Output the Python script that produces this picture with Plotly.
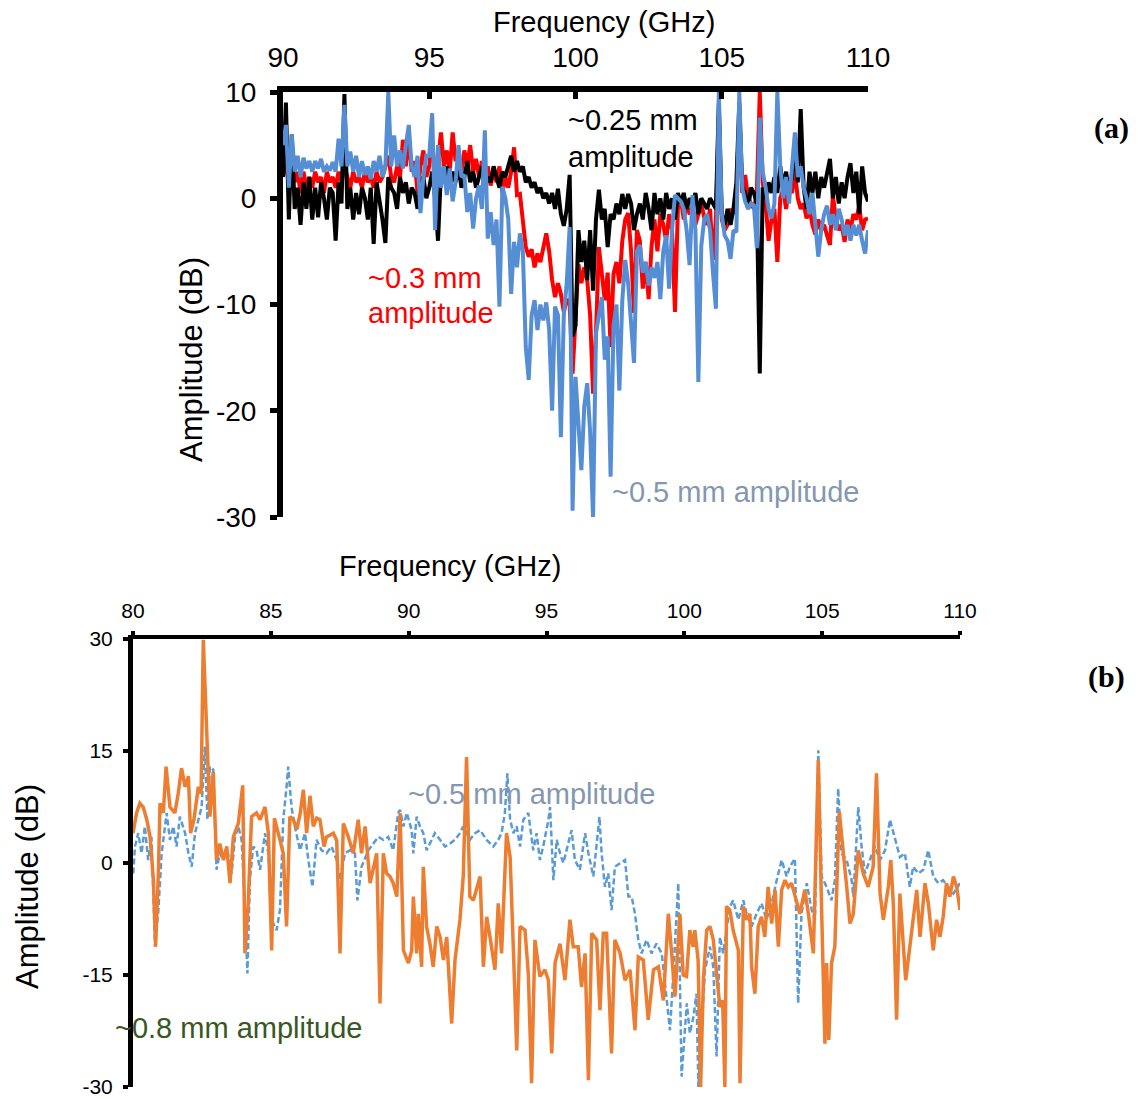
import plotly.graph_objects as go

W, H = 1143, 1099
FONT = "Arial, Liberation Sans, sans-serif"

# ---------------- Panel (a) data ----------------
freq_a = [round(90 + 0.1 * i, 1) for i in range(201)]

amp_a_025mm = [
    2, 9, -2, 6, -1, 1, -2.5, 1.5, -1, 2,
    -2, 1, -1.8, 1.5, 0, -2, 1, 0.5, -4, 1.5,
    -0.5, 9.8, -1, 1, -2, 0.5, -1.5, 1, 0, -2,
    1, -4.3, 1.5, 0, -2, -4.2, 2, 1, 0.5, -1,
    2, 0.5, 1.5, -0.5, 1, 0.5, -1, 1.5, 2, 0,
    1, 2.5, 0, -4, 2.5, 1.5, 3, 1, 2.5, 1.5,
    3, 1, 2, 3.5, 1.5, 2.5, 1, 2, 3, 1,
    2, 1.5, 3, 2, 1, 2.5, 2, 3, 4, 2.5,
    3.5, 2.5, 3, 1.5, 2, 1, 1.5, 0.5, 1, 0,
    0.5, -0.5, 0.5, -1, 0.9, -1.5, -2.6, -1, 2.2, -13,
    -12, -3, -6, -4, -7.7, -3, -8.7, -2, 0.8, -2,
    -1, -4.6, -1.5, -2, -0.5, -1.5, 0.4, -1, 0.4, -0.5,
    -3, -1.5, -0.5, -2, 0.5, -1, -3, 0.5, -1.5, 0,
    -2, 0.5, -1, 0, -2, 0.5, -0.5, 0.5, -1, 0,
    -0.5, 0.5, -1.5, 0, -0.5, -1, 0, -0.5, -1, 9,
    -1.5, -2.5, -1, -2.5, -1, 1.5, 9, 1, 0.5, -1,
    1, 0.5, -0.5, -16.5, 1, 0, 1.5, 0.5, 2, 0.5,
    3, 1, 2.5, 0.5, 2, 4.5, 1.5, 8.4, 1, -1,
    2.5, 0.5, 2.5, 0, 2, 1, 2.5, 3.7, 0, 2,
    -0.5, 1.5, 0, 2, 3.3, 0.5, 2.5, -1.5, 3, 0.5, -0.3,
]

amp_a_03mm = [
    2, 4, 1, 3, 1.5, 2.5, 0.5, 2.5, 1, 2,
    1, 2.5, 1.5, 2, 0.5, 2.5, 1.5, 2, 1, 2.5,
    1.5, 3, 2, 1, 2.5, 1.5, 2, 1, 2.5, 1.5,
    2, 1, 2.5, 1.5, 2, 3, 4, 2, 1.5, 3,
    2, 5.5, 3, 5.8, 2.5, 3.5, 0.5, 3, 4.5, 2,
    3, 5.5, 2, 3.5, 6.2, 3, 4.5, 2.5, 6.2, 3.5,
    4, 2.5, 4.5, 3, 5, 2.5, 3.7, 2, 3.5, 1.5,
    3, 1.2, 2.6, 1.5, 3, 0.5, 2, 1, 2.5, 4.8,
    0.3, 0.4, -2.6, -4.6, -5.5, -4.8, -6.5, -5.2, -6, -4.5,
    -3.3, -5, -7.7, -9.3, -8, -9, -10.7, -9.5, -10, -16.5,
    -12, -6.2, -8, -6.5, -7.7, -11, -18.4, -12.7, -4.6, -7,
    -9.6, -7, -14, -7.1, -6, -8, -4, -2, -1.4, -5,
    -10.8, -3, -4, -8.5, -6, -9.5, -4.5, -2, -5, -1.5,
    -2.5, -4, -1.5, -3, -10.7, -1, 0, -2, -0.5, -1.5,
    -1, -2.5, -1.5, -0.5, -1.8, -2.5, -1, -5.8, -2, 8,
    -2, -3, -2.5, -1, -1.5, 0, 8, 0.5, 2.2, 0,
    -0.5, -1, 0.5, 10, 1.5, -0.5, -4, -2, -1, -6,
    0, 0.8, -1, 1, 0.5, 2.5, 0, -1, -0.5, -1.9,
    -1, -2.5, -3.4, -2, -3, -2.5, -3.5, -4.4, 0.3, -2,
    -3, -2.5, -4.1, -2, -3, -1.5, -2, -0.7, -3, -2, -1.9,
]

amp_a_05mm = [
    5, 6.9, 1, 6, 2.5, 4, 2, 3.8, 2.8, 3.5,
    2.5, 3.5, 2.8, 3.7, 2.5, 3, 2.6, 3.4, 2.5, 5.6,
    3, 8.8, 3, 4.4, 2.5, 4, 2, 3.5, 2.2, 3,
    1.8, 3.5, 2.5, 4, 2, 3, 10, 3, 5.9, 3,
    4.5, 2.8, 5, 6.9, 3, 2, 4, -1.4, 2, 4,
    4, 8, -3, 5, 1, 3, 0.3, 2.8, -0.3, 1.5,
    5, 2, 2.2, -1.3, 0.5, -2.85, 0, 1.2, -1, 6.4,
    -3.8, -1.3, -4.4, -2, -10.2, 1.1, 0, -1.9, -9, -4.1,
    -6.5, -3.3, -5, -14, -17.1, -11, -9.6, -12.4, -10, -11.5,
    -9.8, -12.4, -20, -10.2, -11, -22.5, -11, -8, -2.7, -29.4,
    -16.8, -21.8, -25.6, -19.6, -17.4, -22, -30, -12.7, -11, -9.3,
    -15.2, -13, -26.2, -12, -10, -18.1, -9.6, -5.8, -8, -12,
    -15.5, -5, -4.4, -7, -6, -8.2, -6.5, -7.5, -6, -9.5,
    -5, -3.5, -8.5, -3, 0.3, 0, -0.3, -1, -3, -6.3,
    0.3, -3, -17.3, -4.5, -2, -1.5, -3, -7, -10.4, 10,
    -1.5, -3.5, -4, -5.7, -3, -3.2, 10, 1, -0.3, -1,
    -0.5, -0.7, -4.7, 7.6, 2.5, 1, -1, -1.9, -0.5, 10,
    3, 0, 2, -0.5, 3, 6.2, 2, 3, 1, 0,
    -1.5, 0.5, -2.5, -5.5, -3, -1.5, -0.7, -2.5, -1.5, -3,
    -1, -2, -3.5, -2.5, -4, -2.5, -3.5, -2.5, -4, -5.2, -3,
]

# ---------------- Panel (b) data ----------------
freq_b_08mm = [
    80.0, 80.13, 80.25, 80.37, 80.5, 80.62, 80.74, 80.82, 80.92, 80.98,
    81.1, 81.2, 81.34, 81.52, 81.64, 81.76, 81.89, 82.01, 82.09, 82.21,
    82.37, 82.47, 82.55, 82.67, 82.79, 82.91, 83.03, 83.15, 83.28, 83.4,
    83.52, 83.64, 83.82, 83.98, 84.06, 84.18, 84.3, 84.48, 84.61, 84.79,
    84.91, 85.03, 85.13, 85.33, 85.45, 85.57, 85.69, 85.82, 85.94, 86.06,
    86.18, 86.3, 86.42, 86.54, 86.66, 86.78, 86.93, 87.02, 87.27, 87.39,
    87.51, 87.63, 87.81, 87.99, 88.17, 88.29, 88.42, 88.6, 88.84, 88.96,
    89.08, 89.2, 89.32, 89.44, 89.57, 89.69, 89.81, 89.99, 90.11, 90.17,
    90.29, 90.35, 90.47, 90.53, 90.65, 90.77, 90.89, 91.02, 91.14, 91.26,
    91.38, 91.56, 91.68, 91.86, 91.98, 92.1, 92.22, 92.35, 92.59, 92.71,
    92.83, 92.95, 93.13, 93.25, 93.37, 93.55, 93.68, 93.8, 93.92, 94.04,
    94.22, 94.34, 94.46, 94.58, 94.76, 94.94, 95.07, 95.19, 95.31, 95.49,
    95.67, 95.85, 95.97, 96.15, 96.27, 96.4, 96.52, 96.64, 96.82, 96.94,
    97.06, 97.18, 97.36, 97.48, 97.67, 97.85, 98.03, 98.21, 98.33, 98.51,
    98.69, 98.88, 99.06, 99.24, 99.42, 99.54, 99.66, 99.84, 99.96, 100.08,
    100.2, 100.32, 100.38, 100.5, 100.59, 100.69, 100.81, 100.93, 101.05, 101.17,
    101.29, 101.39, 101.47, 101.53, 101.65, 101.77, 101.96, 102.02, 102.14, 102.26,
    102.38, 102.44, 102.56, 102.68, 102.8, 102.92, 103.04, 103.17, 103.29, 103.41,
    103.53, 103.65, 103.77, 103.89, 104.01, 104.19, 104.37, 104.5, 104.68, 104.86,
    104.98, 105.1, 105.16, 105.24, 105.34, 105.46, 105.62, 105.76, 105.89, 106.01,
    106.13, 106.31, 106.49, 106.67, 106.85, 106.97, 107.1, 107.22, 107.4, 107.49,
    107.58, 107.7, 107.82, 107.94, 108.03, 108.18, 108.3, 108.43, 108.55, 108.73,
    108.85, 109.03, 109.15, 109.27, 109.39, 109.51, 109.63, 109.76, 109.88, 110.0,
]
amp_b_08mm = [
    4.0, 6.7, 8.0, 7.5, 5.8, 3.5, -2.3, -11.2, -1.4, 8.0,
    6.7, 12.9, 7.5, 6.7, 9.3, 12.7, 10.2, 11.6, 4.0, 5.8,
    10.2, 9.3, 29.9, 16.5, 6.2, 12.2, 0.4, 2.6, 0.4, 2.2,
    -2.7, 3.5, 5.3, 10.4, -12.1, -5.4, 6.2, 6.7, 5.8, 7.5,
    4.0, -11.7, 6.0, 3.1, 1.3, -8.5, 6.2, 5.8, 4.5, 6.5,
    9.8, 4.0, 9.0, 4.9, 6.0, 5.8, 2.2, 3.5, 4.0, 3.0,
    -12.1, 5.3, 3.5, 1.3, 5.8, 1.3, 4.9, -2.7, 1.3, -18.8,
    1.3, -1.4, -1.8, -2.7, -4.5, 6.7, -11.7, -13.4, -11.7, -4.5,
    -12.1, -6.8, -13.9, -0.5, -8.5, -10.8, -13.9, -8.5, -9.9, -13.0,
    -9.9, -21.5, -13.0, -7.6, -1.8, 14.2, -4.5, -5.0, -1.8, -13.9,
    -7.2, -9.9, -14.3, -5.4, -12.1, 4.0, 0.8, -11.7, -25.1, -8.5,
    -9.0, -14.8, -29.5, -10.3, -15.2, -14.3, -15.7, -25.5, -13.4, -10.8,
    -15.7, -7.6, -11.2, -11.2, -16.6, -12.1, -29.1, -9.4, -10.3, -19.7,
    -9.4, -9.4, -25.5, -10.3, -12.1, -15.7, -14.3, -22.4, -12.6, -13.0,
    -21.0, -14.3, -13.9, -18.4, -6.8, -12.1, -17.9, -6.8, -15.0, -15.2,
    -9.0, -11.2, -9.0, -13.0, -30.0, -15.7, -9.0, -8.5, -10.3, -14.8,
    -19.3, -18.4, -30.0, -5.8, -6.3, -9.0, -11.7, -29.5, -5.8, -7.6,
    -6.8, -13.9, -17.5, -8.5, -7.2, -9.9, -3.2, -8.1, -3.6, -11.2,
    -3.6, -2.3, -3.2, -2.7, -4.5, -6.8, -3.6, -6.8, -12.1, 13.8,
    -6.3, -24.2, -13.4, -23.7, -13.4, -11.2, 6.9, 2.2, -3.2, -8.1,
    -6.8, 1.7, -1.4, -3.2, -0.5, 12.0, -4.1, -7.6, -3.2, 0.4,
    -5.4, -21.0, -4.1, -10.8, -15.7, -11.2, -7.6, -3.6, -9.9, -2.7,
    -5.4, -11.7, -7.6, -9.9, -7.2, -2.7, -4.5, -1.8, -3.2, -6.3,
]

freq_b_05mm = [
    80.01, 80.07, 80.19, 80.31, 80.43, 80.55, 80.67, 80.8, 80.92, 81.04,
    81.22, 81.34, 81.46, 81.58, 81.7, 81.89, 82.01, 82.13, 82.25, 82.37,
    82.49, 82.61, 82.7, 82.79, 82.91, 83.03, 83.15, 83.28, 83.4, 83.58,
    83.7, 83.82, 83.94, 84.06, 84.15, 84.24, 84.36, 84.48, 84.61, 84.79,
    84.91, 85.03, 85.21, 85.33, 85.45, 85.57, 85.63, 85.75, 85.87, 86.06,
    86.24, 86.36, 86.51, 86.66, 86.84, 87.02, 87.2, 87.39, 87.51, 87.69,
    87.87, 88.05, 88.14, 88.29, 88.54, 88.72, 88.9, 89.08, 89.26, 89.44,
    89.62, 89.69, 89.81, 89.93, 90.11, 90.17, 90.29, 90.41, 90.53, 90.65,
    90.83, 90.95, 91.14, 91.32, 91.5, 91.68, 91.86, 91.98, 92.22, 92.41,
    92.59, 92.83, 93.07, 93.25, 93.37, 93.49, 93.58, 93.68, 93.8, 93.92,
    94.04, 94.16, 94.34, 94.52, 94.64, 94.76, 94.88, 95.07, 95.13, 95.25,
    95.37, 95.49, 95.61, 95.73, 95.91, 96.03, 96.21, 96.4, 96.52, 96.7,
    96.92, 97.0, 97.12, 97.24, 97.36, 97.48, 97.67, 97.85, 97.97, 98.09,
    98.21, 98.33, 98.45, 98.63, 98.81, 98.99, 99.18, 99.3, 99.48, 99.6,
    99.78, 99.9, 100.09, 100.2, 100.33, 100.44, 100.51, 100.75, 100.93, 101.05,
    101.17, 101.29, 101.41, 101.65, 101.77, 101.96, 102.14, 102.26, 102.44, 102.62,
    102.8, 102.98, 103.17, 103.35, 103.53, 103.71, 103.83, 104.01, 104.13, 104.25,
    104.44, 104.62, 104.74, 104.86, 104.98, 105.16, 105.34, 105.46, 105.58, 105.7,
    105.89, 106.07, 106.13, 106.31, 106.43, 106.55, 106.73, 106.91, 107.1, 107.28,
    107.46, 107.64, 107.82, 108.0, 108.18, 108.3, 108.49, 108.67, 108.85, 109.03,
    109.21, 109.39, 109.57, 109.76, 110.0,
]
amp_b_05mm = [
    -1.4, 2.2, 4.0, 1.3, 4.9, 0.4, 3.5, -11.2, -6.3, 1.3,
    6.7, 3.1, 4.9, 2.2, 6.2, 4.0, 1.3, -0.5, 4.0, 5.8,
    7.5, 15.6, 5.8, 12.9, 12.5, -0.9, 1.3, 0.4, 2.2, -1.4,
    3.5, 4.9, 3.1, -5.9, -14.8, -2.3, 2.2, 1.7, -0.9, 4.0,
    1.3, -7.6, -9.0, -6.3, 5.8, 10.2, 12.9, 7.5, 4.9, 1.7,
    4.0, 0.4, -3.2, 3.1, 1.7, 1.3, 2.2, 0.4, -2.3, 1.3,
    1.7, 1.3, -5.0, -0.5, 1.7, 2.6, 3.5, 3.1, 3.5, 1.7,
    6.7, 7.1, 4.9, 6.7, 4.4, 1.3, 6.2, 4.9, 4.0, 1.7,
    3.1, 4.0, 3.1, 2.2, 2.6, 3.1, 4.0, 4.9, 3.1, 4.0,
    4.4, 3.1, 2.2, 3.1, 4.0, 6.7, 12.0, 5.8, 4.0, 4.9,
    2.2, 5.8, 6.7, 1.7, 4.0, 0.4, 2.2, 5.8, 7.5, -2.3,
    3.1, 1.3, 0.0, 1.7, 4.4, 0.4, -0.9, 4.0, 1.3, -1.8,
    6.2, 1.3, -3.2, -1.4, -6.3, -0.5, 0.0, 0.4, -4.5, -4.5,
    -6.8, -10.3, -12.1, -10.3, -12.1, -10.8, -12.1, -16.6, -22.4, -14.8,
    -2.7, -28.6, -18.8, -22.8, -20.6, -17.5, -30.0, -14.3, -11.2, -13.9,
    -25.9, -9.9, -12.1, -5.9, -5.0, -7.6, -5.0, -6.8, -8.5, -6.8,
    -5.4, -7.6, -5.4, -2.3, 0.4, -1.8, -0.5, 0.6, -18.8, -6.8,
    -2.7, -6.3, -7.6, 15.1, -1.8, -3.2, -5.0, -2.3, 10.0, 1.3,
    0.4, -2.3, -4.5, 7.5, 2.2, -1.4, 0.4, 2.2, 0.4, 1.7,
    5.8, 3.1, 0.8, 1.3, -3.2, -0.5, -1.4, -0.9, 1.7, -1.8,
    -2.7, -2.3, -3.2, -4.1, -2.7,
]

ticks_a_x = [90, 95, 100, 105, 110]
ticks_a_y = [10, 0, -10, -20, -30]
ticks_b_x = [80, 85, 90, 95, 100, 105, 110]
ticks_b_y = [30, 15, 0, -15, -30]

fig = go.Figure()

# panel (a)
fig.add_trace(go.Scatter(x=freq_a, y=amp_a_03mm, mode="lines", name="~0.3 mm",
                         line=dict(color="#FF0000", width=4), xaxis="x", yaxis="y"))
fig.add_trace(go.Scatter(x=freq_a, y=amp_a_025mm, mode="lines", name="~0.25 mm",
                         line=dict(color="#000000", width=4), xaxis="x", yaxis="y"))
fig.add_trace(go.Scatter(x=freq_a, y=amp_a_05mm, mode="lines", name="~0.5 mm",
                         line=dict(color="#558ED5", width=4), xaxis="x", yaxis="y"))

# panel (b)
fig.add_trace(go.Scatter(x=freq_b_05mm, y=amp_b_05mm, mode="lines", name="~0.5 mm (b)",
                         line=dict(color="#5B9BD5", width=2.5, dash="6px,3px"),
                         xaxis="x2", yaxis="y2"))
fig.add_trace(go.Scatter(x=freq_b_08mm, y=amp_b_08mm, mode="lines", name="~0.8 mm",
                         line=dict(color="#ED7D31", width=3.5), xaxis="x2", yaxis="y2"))


def px(p):
    return p / W


def py(p):
    return 1 - p / H


common = dict(showgrid=False, zeroline=False, showline=True, linecolor="black",
              color="black", automargin=False)


def labels(vals):
    return [str(v) for v in vals]


fig.update_layout(
    width=W, height=H,
    autosize=False,
    margin=dict(l=0, r=0, t=0, b=0, pad=0, autoexpand=False),
    paper_bgcolor="white", plot_bgcolor="white",
    showlegend=False,
    font=dict(family=FONT, color="black"),
    xaxis=dict(domain=[px(283), px(868)], anchor="y", side="top", range=[90, 110],
               tickvals=ticks_a_x, ticktext=labels(ticks_a_x),
               linewidth=6, ticks="inside", ticklen=7, tickwidth=5,
               tickcolor="black", tickfont=dict(size=28, family=FONT),
               ticklabelstandoff=8, **common),
    yaxis=dict(domain=[py(517), py(92)], anchor="x", range=[-30, 10],
               tickvals=ticks_a_y, ticktext=labels(ticks_a_y),
               linewidth=6, ticks="outside", ticklen=7, tickwidth=5,
               tickcolor="black", tickfont=dict(size=28, family=FONT),
               ticklabelstandoff=8, **common),
    xaxis2=dict(domain=[px(133), px(960)], anchor="y2", side="top", range=[80, 110],
                tickvals=ticks_b_x, ticktext=labels(ticks_b_x),
                linewidth=4, ticks="outside", ticklen=4, tickwidth=4,
                tickcolor="black", tickfont=dict(size=21, family=FONT),
                ticklabelstandoff=5, **common),
    yaxis2=dict(domain=[py(1087), py(639)], anchor="x2", range=[-30, 30],
                tickvals=ticks_b_y, ticktext=labels(ticks_b_y),
                linewidth=5, ticks="outside", ticklen=5, tickwidth=4,
                tickcolor="black", tickfont=dict(size=21, family=FONT),
                ticklabelstandoff=6, **common),
)


def ann(text, x, y, size=29, color="black", xanchor="left", angle=0, family=FONT):
    fig.add_annotation(text=text, x=px(x), y=py(y), xref="paper", yref="paper",
                       xanchor=xanchor, yanchor="middle", showarrow=False, textangle=angle,
                       font=dict(size=size, color=color, family=family))


# axis titles
ann("Frequency (GHz)", 604, 22, xanchor="center")
ann("Amplitude (dB)", 191, 360, size=31, xanchor="center", angle=-90)
ann("Frequency (GHz)", 450, 566, xanchor="center")
ann("Amplitude (dB)", 27, 887, size=31, xanchor="center", angle=-90)

# series labels
ann("~0.25 mm", 566, 120)
ann("amplitude", 566, 157)
ann("~0.3 mm", 366, 278, color="#FF0000")
ann("amplitude", 366, 313, color="#FF0000")
ann("~0.5 mm amplitude", 610, 492, color="#8497B0")
ann("~0.5 mm amplitude", 406, 794, color="#8497B0")
ann("~0.8 mm amplitude", 113, 1028, color="#385723")

# panel letters
ann("<b>(a)</b>", 1111, 128, size=30, xanchor="center",
    family="Liberation Serif, Times New Roman, serif")
ann("<b>(b)</b>", 1106, 677, size=30, xanchor="center",
    family="Liberation Serif, Times New Roman, serif")

fig.write_html("out.html")
